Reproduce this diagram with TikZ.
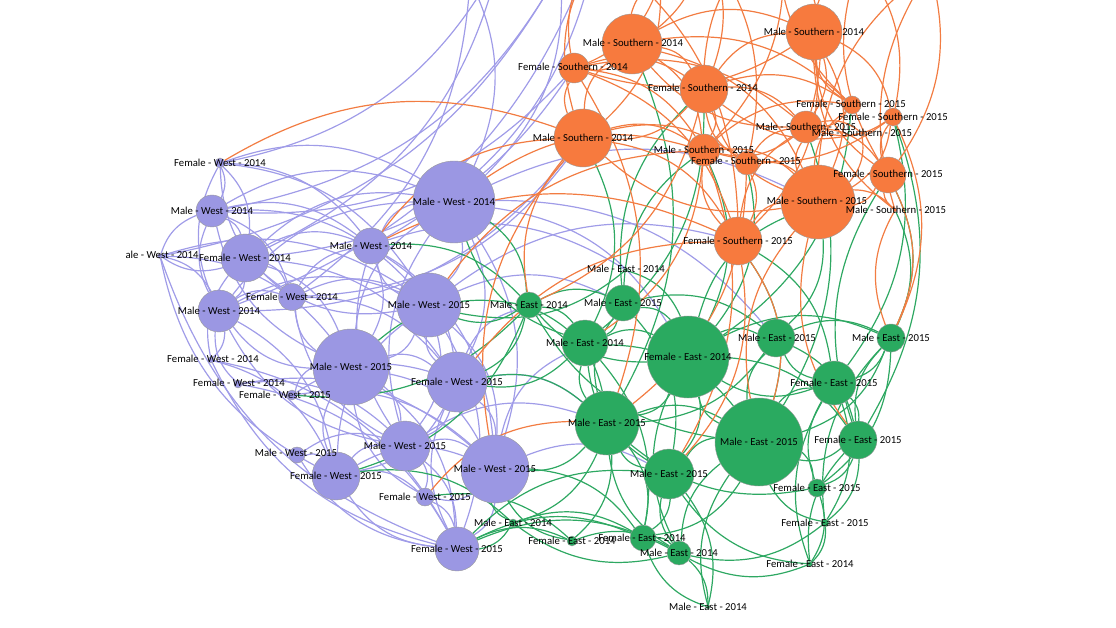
\documentclass[tikz,border=0pt]{standalone}
\usepackage{fontspec}
\setmainfont{Carlito}
\definecolor{westc}{RGB}{155,151,227}
\definecolor{southc}{RGB}{247,122,62}
\definecolor{eastc}{RGB}{42,170,96}
\definecolor{westl}{RGB}{160,156,232}
\definecolor{southl}{RGB}{242,124,66}
\definecolor{eastl}{RGB}{46,168,98}
\pgfdeclarelayer{edges}
\pgfsetlayers{edges,main}
\begin{document}
\begin{tikzpicture}[x=1pt,y=-1pt,
  nd/.style={circle,draw=black!40,line width=0.4pt,inner sep=0pt},
  wn/.style={nd,fill=westc},
  sn/.style={nd,fill=southc},
  en/.style={nd,fill=eastc},
  lbl/.style={font=\fontsize{10.7}{12}\selectfont,text=black,inner sep=0pt},
  pe/.style={draw=westl,line width=1.2pt,bend left=25},
  oe/.style={draw=southl,line width=1.2pt,bend left=25},
  ge/.style={draw=eastl,line width=1.2pt,bend left=25}]
\useasboundingbox (0,0) rectangle (1116,628);
\clip (0,0) rectangle (1116,628);
% West nodes
\node[wn,minimum size=10pt] (w1) at (220,163) {};
\node[wn,minimum size=32pt] (w2) at (212,211) {};
\node[wn,minimum size=48pt] (w3) at (245,258) {};
\node[wn,minimum size=5pt] (w4) at (160,256) {};
\node[wn,minimum size=42pt] (w5) at (219,311) {};
\node[wn,minimum size=27pt] (w6) at (292,297) {};
\node[wn,minimum size=36pt] (w7) at (371,246) {};
\node[wn,minimum size=82pt] (w8) at (454,202) {};
\node[wn,minimum size=64pt] (w9) at (429,305) {};
\node[wn,minimum size=76pt] (w10) at (351,367) {};
\node[wn,minimum size=60pt] (w11) at (457,382) {};
\node[wn,minimum size=6pt] (w12) at (211,360) {};
\node[wn,minimum size=8pt] (w13) at (238,384) {};
\node[wn,minimum size=10pt] (w14) at (292,395) {};
\node[wn,minimum size=16pt] (w15) at (297,455) {};
\node[wn,minimum size=48pt] (w16) at (336,476) {};
\node[wn,minimum size=50pt] (w17) at (405,446) {};
\node[wn,minimum size=68pt] (w18) at (495,469) {};
\node[wn,minimum size=18pt] (w19) at (425,497) {};
\node[wn,minimum size=44pt] (w20) at (457,549) {};
% Southern nodes
\node[sn,minimum size=60pt] (s1) at (632,44) {};
\node[sn,minimum size=30pt] (s2) at (574,68) {};
\node[sn,minimum size=48pt] (s3) at (704,89) {};
\node[sn,minimum size=58pt] (s4) at (583,138) {};
\node[sn,minimum size=32pt] (s5) at (704,150) {};
\node[sn,minimum size=24pt] (s6) at (747,163) {};
\node[sn,minimum size=56pt] (s7) at (814,32) {};
\node[sn,minimum size=18pt] (s8) at (852,105) {};
\node[sn,minimum size=18pt] (s9) at (893,117) {};
\node[sn,minimum size=32pt] (s10) at (806,127) {};
\node[sn,minimum size=4pt] (s11) at (862,133) {};
\node[sn,minimum size=36pt] (s12) at (888,175) {};
\node[sn,minimum size=74pt] (s13) at (818,202) {};
\node[sn,minimum size=4pt] (s14) at (895,210) {};
\node[sn,minimum size=48pt] (s15) at (738,241) {};
% East nodes
\node[en,minimum size=4pt] (e1) at (626,270) {};
\node[en,minimum size=26pt] (e2) at (529,305) {};
\node[en,minimum size=36pt] (e3) at (623,303) {};
\node[en,minimum size=46pt] (e4) at (585,343) {};
\node[en,minimum size=82pt] (e5) at (688,357) {};
\node[en,minimum size=64pt] (e6) at (607,423) {};
\node[en,minimum size=88pt] (e7) at (759,442) {};
\node[en,minimum size=38pt] (e8) at (776,338) {};
\node[en,minimum size=28pt] (e9) at (891,338) {};
\node[en,minimum size=44pt] (e10) at (834,383) {};
\node[en,minimum size=38pt] (e11) at (858,440) {};
\node[en,minimum size=18pt] (e12) at (817,488) {};
\node[en,minimum size=8pt] (e13) at (825,523) {};
\node[en,minimum size=5pt] (e14) at (810,564) {};
\node[en,minimum size=50pt] (e15) at (669,474) {};
\node[en,minimum size=8pt] (e16) at (513,523) {};
\node[en,minimum size=10pt] (e17) at (572,541) {};
\node[en,minimum size=26pt] (e18) at (643,538) {};
\node[en,minimum size=24pt] (e19) at (679,553) {};
\node[en,minimum size=4pt] (e20) at (708,607) {};
% off-frame ends
\coordinate (pt1) at (500,-40);
\coordinate (pt2) at (560,-30);
\coordinate (pt3) at (600,-70);
\coordinate (pt4) at (470,-20);
\coordinate (ot1) at (700,-60);
\coordinate (ot2) at (860,-40);
\coordinate (ot3) at (600,-50);
\coordinate (ot4) at (780,-70);
\coordinate (ot5) at (660,-20);
\coordinate (ot6) at (930,-30);
\begin{pgfonlayer}{edges}
\foreach \a/\b in {w1/w2,w1/w3,w5/w1,w1/w8,w1/w7,w6/w1,w2/w3,w5/w2,w2/w8,w2/w7,w2/w9,w10/w2,
  w3/w5,w3/w6,w3/w7,w3/w8,w9/w3,w3/w10,w3/w11,w12/w3,w4/w2,w3/w4,w4/w5,w4/w9,w16/w4,
  w5/w6,w10/w5,w5/w12,w13/w5,w5/w16,w5/w9,w17/w5,w6/w7,w6/w9,w10/w6,w6/w11,w17/w6,
  w7/w8,w9/w7,w7/w10,w7/w11,w17/w7,w7/w18,w8/w9,w10/w8,w8/w11,w17/w8,w8/w18,w5/w8,
  w9/w10,w11/w9,w9/w17,w9/w18,w16/w9,w9/w20,w10/w11,w16/w10,w10/w17,w10/w18,w19/w10,w10/w20,
  w11/w17,w11/w18,w20/w11,w11/w16,w12/w16,w20/w12,w13/w17,w13/w18,w14/w10,w14/w11,w14/w18,
  w15/w16,w20/w15,w15/w17,w16/w17,w16/w18,w16/w19,w20/w16,w17/w18,w17/w19,w17/w20,w18/w19,
  w18/w20,w19/w20,w20/w4,w12/w20,w13/w20,w2/w6,w1/w9,w4/w10,
  pt1/w1,pt2/w2,pt1/w3,pt3/w5,pt2/w4,pt3/w7,pt4/w8,pt2/w8,pt4/w6,s2/w2,s2/w3,s4/w5,s4/w6,
  w8/e5,w9/e3,w11/e6,w18/e15,w17/e6,w7/e1,w8/e8,w8/s13,w9/s15,w18/e4,w11/e2}
  \draw[pe] (\a) to (\b);
\foreach \a/\b in {e1/e5,e2/e3,e2/e4,e5/e2,e2/e6,e7/e2,e3/e4,e3/e5,e6/e3,e3/e8,e3/e15,e4/e5,
  e6/e4,e4/e7,e15/e4,e4/e18,e5/e6,e7/e5,e5/e8,e5/e9,e10/e5,e5/e11,e5/e15,e19/e5,e6/e7,
  e15/e6,e6/e18,e19/e6,e6/e17,e8/e6,e7/e8,e9/e7,e7/e10,e11/e7,e7/e12,e13/e7,e15/e7,e7/e18,
  e19/e7,e8/e9,e10/e8,e8/e11,e9/e10,e11/e9,e9/e12,e13/e9,e10/e11,e12/e10,e10/e13,e14/e10,
  e11/e12,e11/e13,e14/e11,e12/e14,e13/e14,e15/e18,e19/e15,e15/e20,e16/e18,e19/e16,e17/e19,
  e18/e19,e20/e18,e19/e20,e14/e19,e13/e19,e6/e16,e20/e7,e14/e15,e12/e6,
  e2/w9,w10/e2,e2/w11,w7/e2,e2/w16,e2/w14,w16/e16,e16/w18,e16/w20,e17/w18,w20/e17,
  w20/e19,w20/e18,e4/w11,e6/w18,w11/e6,w8/e2,e4/w8,e1/w9,w18/e18,w20/e15,w19/e17,
  s1/e6,s3/e4,e3/s3,s4/e4,s5/e5,e3/s5,s6/e5,s8/e5,s9/e10,s10/e7,s12/e9,e11/s12,s13/e8,
  e5/s13,s15/e7,s15/e10,s9/e11,s14/e9}
  \draw[ge] (\a) to (\b);
\foreach \a/\b in {s1/s2,s1/s3,s4/s1,s1/s5,s1/s7,s10/s1,s1/s13,s2/s3,s4/s2,s2/s5,s7/s2,
  s3/s4,s3/s5,s6/s3,s3/s7,s3/s10,s13/s3,s4/s5,s4/s6,s13/s4,s4/s15,s5/s6,s10/s5,s5/s13,s15/s5,
  s6/s10,s6/s13,s8/s7,s7/s9,s7/s10,s12/s7,s7/s13,s8/s10,s13/s8,s9/s10,s12/s9,s9/s13,s10/s11,
  s10/s12,s13/s10,s11/s13,s12/s13,s14/s12,s13/s14,s15/s13,s6/s15,s15/s10,s2/s15,s7/s15,
  s3/s8,s5/s8,s1/s8,s2/s10,s9/s5,s14/s7,s11/s3,
  ot1/s1,s7/ot2,ot1/s3,s2/ot3,ot4/s10,ot2/s9,s4/ot3,ot4/s5,s12/ot2,ot1/s6,
  ot5/s2,s1/ot5,ot5/s4,s3/ot4,s13/ot6,ot6/s12,s8/ot4,ot3/s15,s14/ot6,
  w1/s4,w7/s4,w7/s15,w11/s15,w18/s4,w9/s5,w19/e6,w8/s5,
  s15/e7,e7/s13,s12/e9,e9/s14,s6/e6,s5/e4,e2/s4,s3/e2,s2/e6,e11/s13,s15/e15,s5/e15,s9/e9}
  \draw[oe] (\a) to (\b);
\end{pgfonlayer}
% labels
\node[lbl] (l-w1) at (w1) {Female - West - 2014};
\node[lbl] (l-w2) at (w2) {Male - West - 2014};
\node[lbl] (l-w3) at (w3) {Female - West - 2014};
\node[lbl] (l-w4) at (162,255) {ale - West - 2014};
\node[lbl] (l-w5) at (w5) {Male - West - 2014};
\node[lbl] (l-w6) at (292,297) {Female - West - 2014};
\node[lbl] (l-w7) at (371,246) {Male - West - 2014};
\node[lbl] (l-w8) at (w8) {Male - West - 2014};
\node[lbl] (l-w9) at (w9) {Male - West - 2015};
\node[lbl] (l-w10) at (w10) {Male - West - 2015};
\node[lbl] (l-w11) at (w11) {Female - West - 2015};
\node[lbl] (l-w12) at (213,359) {Female - West - 2014};
\node[lbl] (l-w13) at (239,383) {Female - West - 2014};
\node[lbl] (l-w14) at (285,395) {Female - West - 2015};
\node[lbl] (l-w15) at (296,453) {Male - West - 2015};
\node[lbl] (l-w16) at (w16) {Female - West - 2015};
\node[lbl] (l-w17) at (w17) {Male - West - 2015};
\node[lbl] (l-w18) at (w18) {Male - West - 2015};
\node[lbl] (l-w19) at (w19) {Female - West - 2015};
\node[lbl] (l-w20) at (w20) {Female - West - 2015};
\node[lbl] (l-s1) at (633,43) {Male - Southern - 2014};
\node[lbl] (l-s2) at (573,67) {Female - Southern - 2014};
\node[lbl] (l-s3) at (703,88) {Female - Southern - 2014};
\node[lbl] (l-s4) at (s4) {Male - Southern - 2014};
\node[lbl] (l-s5) at (s5) {Male - Southern - 2015};
\node[lbl] (l-s6) at (746,161) {Female - Southern - 2015};
\node[lbl] (l-s7) at (s7) {Male - Southern - 2014};
\node[lbl] (l-s8) at (851,104) {Female - Southern - 2015};
\node[lbl] (l-s9) at (s9) {Female - Southern - 2015};
\node[lbl] (l-s10) at (s10) {Male - Southern - 2015};
\node[lbl] (l-s11) at (s11) {Male - Southern - 2015};
\node[lbl] (l-s12) at (888,174) {Female - Southern - 2015};
\node[lbl] (l-s13) at (817,201) {Male - Southern - 2015};
\node[lbl] (l-s14) at (896,210) {Male - Southern - 2015};
\node[lbl] (l-s15) at (s15) {Female - Southern - 2015};
\node[lbl] (l-e1) at (626,269) {Male - East - 2014};
\node[lbl] (l-e2) at (e2) {Male - East - 2014};
\node[lbl] (l-e3) at (e3) {Male - East - 2015};
\node[lbl] (l-e4) at (e4) {Male - East - 2014};
\node[lbl] (l-e5) at (e5) {Female - East - 2014};
\node[lbl] (l-e6) at (e6) {Male - East - 2015};
\node[lbl] (l-e7) at (e7) {Male - East - 2015};
\node[lbl] (l-e8) at (777,338) {Male - East - 2015};
\node[lbl] (l-e9) at (e9) {Male - East - 2015};
\node[lbl] (l-e10) at (e10) {Female - East - 2015};
\node[lbl] (l-e11) at (e11) {Female - East - 2015};
\node[lbl] (l-e12) at (e12) {Female - East - 2015};
\node[lbl] (l-e13) at (e13) {Female - East - 2015};
\node[lbl] (l-e14) at (e14) {Female - East - 2014};
\node[lbl] (l-e15) at (e15) {Male - East - 2015};
\node[lbl] (l-e16) at (e16) {Male - East - 2014};
\node[lbl] (l-e17) at (e17) {Female - East - 2014};
\node[lbl] (l-e18) at (642,538) {Female - East - 2014};
\node[lbl] (l-e19) at (e19) {Male - East - 2014};
\node[lbl] (l-e20) at (e20) {Male - East - 2014};
\end{tikzpicture}
\end{document}
